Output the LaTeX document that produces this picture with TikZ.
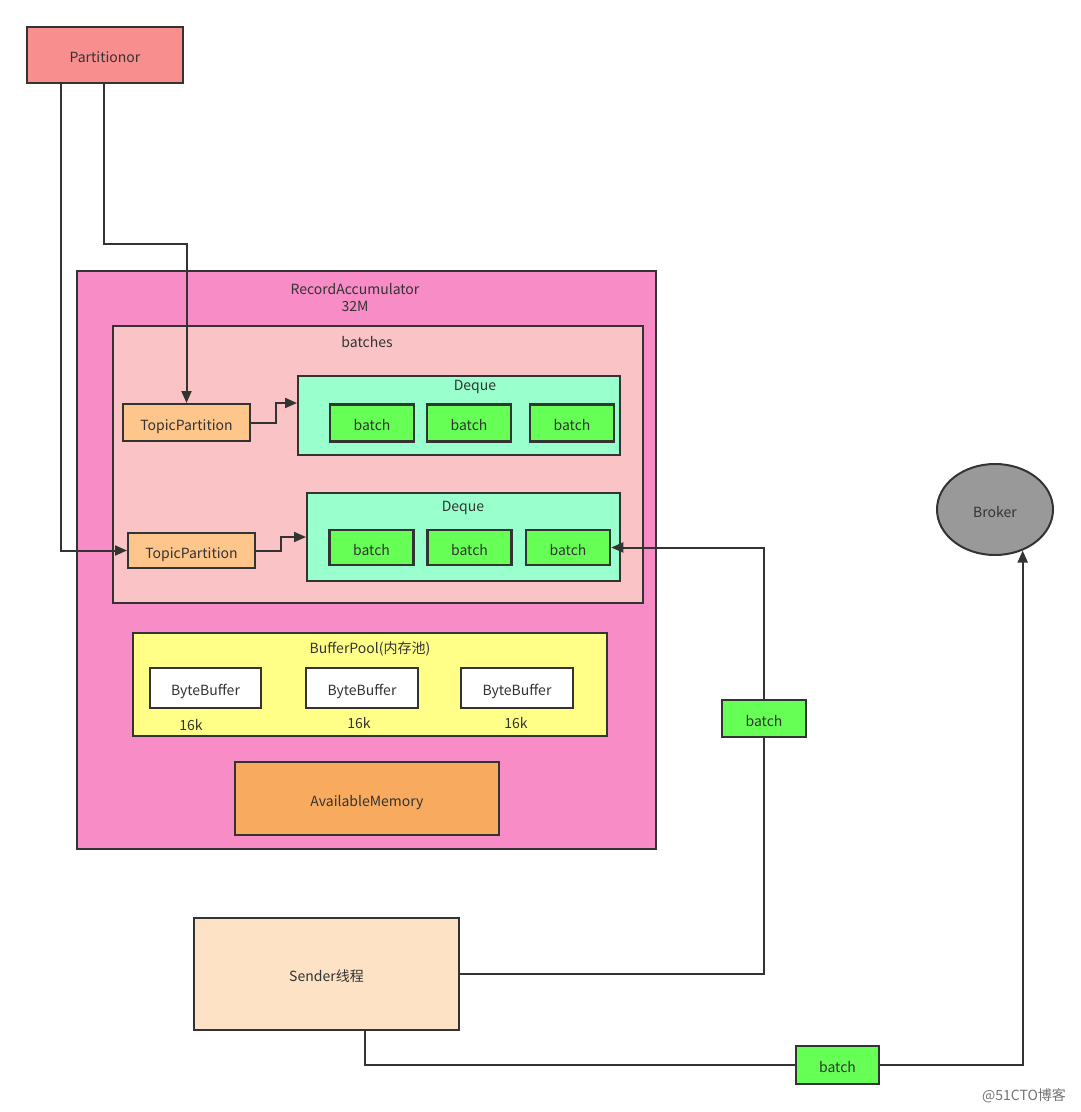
\documentclass[tikz,border=0pt]{standalone}
\usepackage{fontspec}
\setmainfont{Noto Sans CJK SC}
\usetikzlibrary{arrows.meta,shapes.geometric}
\definecolor{partfill}{HTML}{F88E8E}
\definecolor{accfill}{HTML}{F78CC6}
\definecolor{batchesfill}{HTML}{FAC4C6}
\definecolor{dequefill}{HTML}{99FFCC}
\definecolor{batchfill}{HTML}{66FF55}
\definecolor{tpfill}{HTML}{FFC68C}
\definecolor{poolfill}{HTML}{FFFF88}
\definecolor{availfill}{HTML}{F8AB5E}
\definecolor{senderfill}{HTML}{FDE2C5}
\definecolor{brokerfill}{HTML}{999999}
\definecolor{edge}{HTML}{333333}
\definecolor{txt}{HTML}{333333}
\tikzset{
  base/.style={draw=edge, line width=2pt, rectangle, inner sep=0pt, text=txt,
    font=\fontsize{14}{16}\selectfont, text height=15pt, text depth=0pt},
  box/.style n args={2}{base, minimum width=#1, minimum height=#2},
  batchbox/.style={base, line width=2.6pt, fill=batchfill, minimum width=84pt, minimum height=37pt},
  lbl/.style={inner sep=0pt, text=txt, font=\fontsize{14}{17}\selectfont},
  conn/.style={draw=edge, line width=2pt},
  arr/.style={conn, -{Triangle[length=12pt,width=10pt]}},
}
\begin{document}
\begin{tikzpicture}[x=1pt,y=-1pt]
\useasboundingbox (0,0) rectangle (1080,1112);
% Partitionor
\node[box={156pt}{56pt}, fill=partfill] (part) at (105,55) {Partitionor};
% RecordAccumulator
\node[box={579pt}{578pt}, fill=accfill] (acc) at (366.5,560) {};
\node[lbl, align=center] (acclbl) at (355,298) {RecordAccumulator\\32M};
% batches
\node[box={530pt}{277pt}, fill=batchesfill] (batches) at (378,464.5) {};
\node[lbl] (batcheslbl) at (367,342) {batches};
% Deque 1
\node[box={322pt}{79pt}, fill=dequefill] (deque1) at (459,415.5) {};
\node[lbl] (deque1lbl) at (475,387) {Deque};
\node[batchbox] (b11) at (372,423) {batch};
\node[batchbox] (b12) at (469,423) {batch};
\node[batchbox] (b13) at (572,423) {batch};
% Deque 2
\node[box={313pt}{88pt}, fill=dequefill] (deque2) at (463.5,537) {};
\node[lbl] (deque2lbl) at (463,508) {Deque};
\node[batchbox, minimum height=35pt] (b21) at (371.5,547.5) {batch};
\node[batchbox, minimum height=35pt] (b22) at (469.5,547.5) {batch};
\node[batchbox, minimum height=35pt] (b23) at (568,547.5) {batch};
% TopicPartitions
\node[box={127pt}{37pt}, fill=tpfill] (tp1) at (186.5,422.5) {TopicPartition};
\node[box={127pt}{35pt}, fill=tpfill] (tp2) at (191.5,550.5) {TopicPartition};
% BufferPool
\node[box={474pt}{103pt}, fill=poolfill] (pool) at (370,684.5) {};
\node[lbl] (poollbl) at (370,649) {BufferPool(内存池)};
\node[box={111pt}{40pt}, fill=white] (bb1) at (205.5,688) {ByteBuffer};
\node[box={112pt}{40pt}, fill=white] (bb2) at (362,688) {ByteBuffer};
\node[box={112pt}{40pt}, fill=white] (bb3) at (517,688) {ByteBuffer};
\node[lbl] (k1) at (191,725) {16k};
\node[lbl] (k2) at (359,723) {16k};
\node[lbl] (k3) at (516,723) {16k};
% AvailableMemory
\node[box={264pt}{73pt}, fill=availfill] (avail) at (367,798.5) {AvailableMemory};
% Sender
\node[box={265pt}{112pt}, fill=senderfill] (sender) at (326.5,974) {Sender线程};
% batches in flight
\node[box={84pt}{37pt}, fill=batchfill] (bm) at (764,718.5) {batch};
\node[box={83pt}{38pt}, fill=batchfill] (bb) at (837.5,1065) {batch};
% Broker
\node[base, ellipse, fill=brokerfill, minimum width=116pt, minimum height=91pt] (broker) at (995,509.5) {Broker};
% watermark
\node[lbl, text=black!55] (wm) at (1024,1096) {@51CTO博客};
% connectors
\draw[arr] ([xshift=35pt]part.south west) |- (tp2.west);
\draw[arr] ([xshift=78pt]part.south west) -- ++(0,160) -| (tp1.north);
\draw[arr] (tp1.east) -- ++(25,0) |- ([yshift=12.5pt]deque1.west);
\draw[arr] (tp2.east) -- ++(25,0) |- (deque2.west);
\draw[conn] (sender.east) -| (bm.south);
\draw[arr] (bm.north) |- (b23.east);
\draw[conn] ([xshift=38.5pt]sender.south) |- (bb.west);
\draw[arr] (bb.east) -| (broker.-56);
\end{tikzpicture}
\end{document}
